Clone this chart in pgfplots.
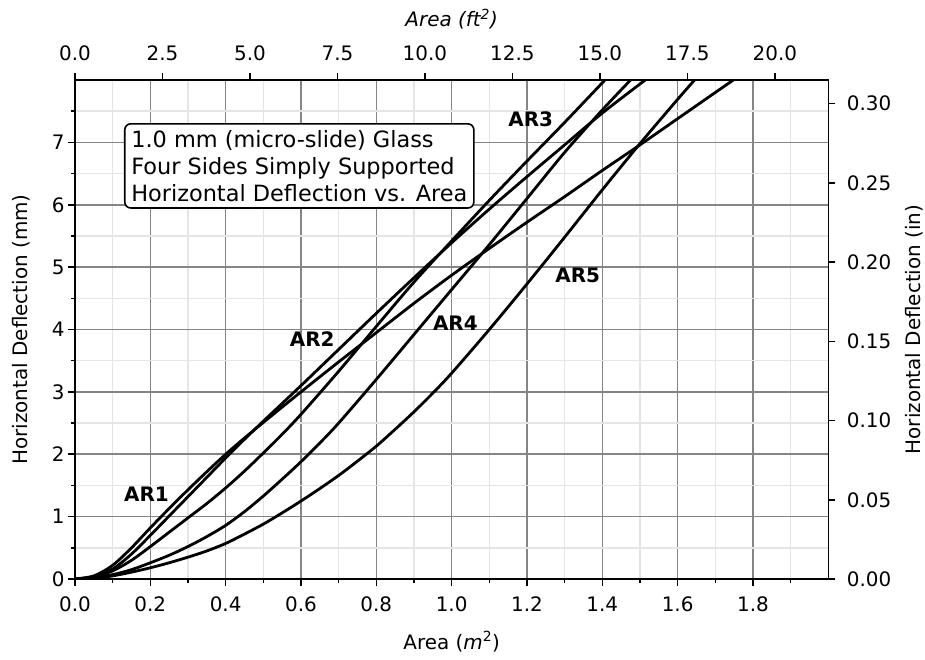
\documentclass[border=0pt]{standalone}
\usepackage{fontspec}
\setmainfont{DejaVu Sans}
\usepackage{pgfplots}
\usepackage{pgfplotstable}
\pgfplotsset{compat=1.18}

\definecolor{majgrid}{gray}{0.52}
\definecolor{mingrid}{gray}{0.90}

\pgfplotstableread{
x y
0 0
0.05 0.05
0.1 0.22
0.15 0.50
0.2 0.82
0.25 1.13
0.3 1.43
0.35 1.72
0.4 2.0
0.45 2.26
0.5 2.51
0.6 3.0
0.7 3.48
0.8 3.95
0.9 4.42
1.0 4.87
1.1 5.3
1.2 5.72
1.3 6.13
1.4 6.55
1.5 6.96
1.6 7.38
1.7 7.8
1.748 8.0
}\arone

\pgfplotstableread{
x y
0 0
0.05 0.04
0.1 0.16
0.15 0.40
0.2 0.70
0.25 1.01
0.3 1.32
0.35 1.63
0.4 1.94
0.45 2.24
0.5 2.53
0.6 3.1
0.7 3.68
0.8 4.26
0.9 4.83
1.0 5.39
1.1 5.93
1.2 6.45
1.3 6.96
1.4 7.47
1.514 8.0
}\artwo

\pgfplotstableread{
x y
0 0
0.05 0.03
0.1 0.13
0.15 0.30
0.2 0.52
0.25 0.75
0.3 0.98
0.35 1.21
0.4 1.46
0.45 1.73
0.5 2.02
0.55 2.32
0.6 2.64
0.7 3.33
0.8 4.05
0.9 4.76
1.0 5.42
1.1 6.07
1.2 6.7
1.3 7.32
1.407 8.0
}\arthree

\pgfplotstableread{
x y
0 0
0.05 0.02
0.1 0.07
0.15 0.15
0.2 0.26
0.25 0.38
0.3 0.52
0.35 0.68
0.4 0.86
0.45 1.08
0.5 1.33
0.55 1.6
0.6 1.88
0.65 2.18
0.7 2.5
0.8 3.2
0.9 3.92
1.0 4.64
1.1 5.36
1.2 6.1
1.3 6.84
1.4 7.52
1.475 8.0
}\arfour

\pgfplotstableread{
x y
0 0
0.05 0.01
0.1 0.05
0.15 0.11
0.2 0.18
0.25 0.26
0.3 0.35
0.35 0.45
0.4 0.57
0.45 0.72
0.5 0.88
0.55 1.06
0.6 1.25
0.65 1.45
0.7 1.66
0.75 1.89
0.8 2.13
0.85 2.4
0.9 2.68
0.95 2.98
1.0 3.3
1.1 4.0
1.2 4.73
1.3 5.48
1.4 6.24
1.5 6.98
1.6 7.69
1.645 8.0
}\arfive

\pgfplotsset{
  common/.style={
    scale only axis, width=753.3bp, height=499bp,
    tick align=outside,
    major tick length=7bp, minor tick length=4bp,
    every tick/.style={black, line width=1.6bp},
    axis line style={line width=1.6bp},
    tick label style={font=\fontsize{20}{24}\selectfont},
    label style={font=\fontsize{20}{24}\selectfont},
    /pgf/number format/assume math mode=true,
  }
}

\begin{document}
\begin{tikzpicture}
\begin{axis}[common, name=ax,
  xmin=0, xmax=2, ymin=0, ymax=8,
  xtick pos=left, ytick pos=left,
  xtick={0,0.2,0.4,0.6,0.8,1.0,1.2,1.4,1.6,1.8},
  xticklabels={0.0,0.2,0.4,0.6,0.8,1.0,1.2,1.4,1.6,1.8},
  minor xtick={0.1,0.3,0.5,0.7,0.9,1.1,1.3,1.5,1.7,1.9},
  ytick={0,1,2,3,4,5,6,7},
  yticklabels={0,1,2,3,4,5,6,7},
  minor ytick={0.5,1.5,2.5,3.5,4.5,5.5,6.5,7.5},
  grid=both,
  major grid style={majgrid, line width=1.6bp},
  minor grid style={mingrid, line width=1.6bp},
  xticklabel shift=7bp,
  xlabel shift=13bp,
  ylabel shift=15bp,
  xlabel={Area (\textit{m}\textsuperscript{2})},
  ylabel={Horizontal Deflection (mm)},
]
\addplot[black, line width=2.8bp, smooth] table {\arone};
\addplot[black, line width=2.8bp, smooth] table {\artwo};
\addplot[black, line width=2.8bp, smooth] table {\arthree};
\addplot[black, line width=2.8bp, smooth] table {\arfour};
\addplot[black, line width=2.8bp, smooth] table {\arfive};

\node[anchor=base west, inner sep=0, font=\bfseries\fontsize{20}{24}\selectfont] at (axis cs:0.13,1.24) {AR1};
\node[anchor=base west, inner sep=0, font=\bfseries\fontsize{20}{24}\selectfont] at (axis cs:0.57,3.72) {AR2};
\node[anchor=base west, inner sep=0, font=\bfseries\fontsize{20}{24}\selectfont] at (axis cs:1.15,7.25) {AR3};
\node[anchor=base west, inner sep=0, font=\bfseries\fontsize{20}{24}\selectfont] at (axis cs:0.95,3.99) {AR4};
\node[anchor=base west, inner sep=0, font=\bfseries\fontsize{20}{24}\selectfont] at (axis cs:1.275,4.75) {AR5};

\node[anchor=north west, draw=black, line width=1.6bp, fill=white, rounded corners=6bp,
      inner sep=6.5bp, align=left, font=\fontsize{22.5}{27}\selectfont]
  at (axis cs:0.130,7.31) {1.0 mm (micro-slide) Glass\\Four Sides Simply Supported\\Horizontal Deflection vs. Area};
\end{axis}

\begin{axis}[common, at={(ax.south west)}, anchor=south west,
  xmin=0, xmax=21.5278, ymin=0, ymax=0.314961,
  xtick pos=right, ytick pos=right,
  xticklabel pos=right, yticklabel pos=right,
  xtick={0,2.5,5,7.5,10,12.5,15,17.5,20},
  xticklabels={0.0,2.5,5.0,7.5,10.0,12.5,15.0,17.5,20.0},
  ytick={0,0.05,0.1,0.15,0.2,0.25,0.3},
  yticklabels={0.00,0.05,0.10,0.15,0.20,0.25,0.30},
  minor xtick={}, minor ytick={},
  xticklabel shift=9bp,
  yticklabel shift=8bp,
  xlabel shift=9bp,
  ylabel shift=7bp,
  xlabel={\textit{Area (ft\textsuperscript{2})}},
  ylabel={Horizontal Deflection (in)},
]
\end{axis}

\pgfresetboundingbox
\path[use as bounding box] ([shift={(-75bp,-81bp)}]ax.south west) rectangle ([shift={(96.7bp,80bp)}]ax.north east);
\end{tikzpicture}
\end{document}
